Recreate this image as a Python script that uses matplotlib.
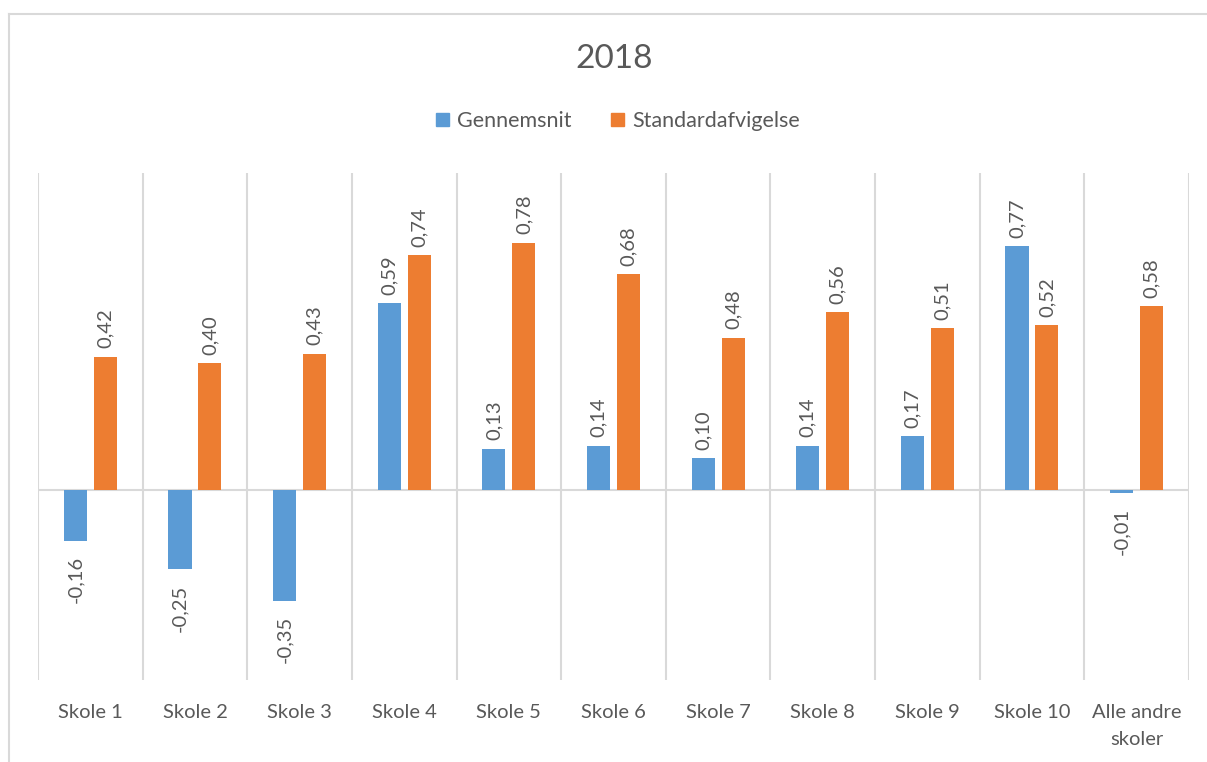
import matplotlib.pyplot as plt
import numpy as np
from matplotlib.lines import Line2D
from matplotlib.patches import Patch

# data
categories = ['Skole 1', 'Skole 2', 'Skole 3', 'Skole 4', 'Skole 5', 'Skole 6',
              'Skole 7', 'Skole 8', 'Skole 9', 'Skole 10', 'Alle andre\nskoler']
gennemsnit = [-0.16, -0.25, -0.35, 0.59, 0.13, 0.14, 0.10, 0.14, 0.17, 0.77, -0.01]
standardafv = [0.42, 0.40, 0.43, 0.74, 0.78, 0.68, 0.48, 0.56, 0.51, 0.52, 0.58]
series_names = ['Gennemsnit', 'Standardafvigelse']
title = '2018'

blue = '#5B9BD5'
orange = '#ED7D31'
txt = '#595959'
grid = '#D9D9D9'

plt.rcParams['font.family'] = ['Lato', 'DejaVu Sans']

fig = plt.figure(figsize=(12.07, 7.62), dpi=100)
ax = fig.add_axes([0.0315, 0.1076, 0.9535, 0.6654])

x = np.arange(len(categories))
w = 0.22
off = 0.143
b1 = ax.bar(x - off, gennemsnit, w, color=blue, zorder=3)
b2 = ax.bar(x + off, standardafv, w, color=orange, zorder=3)

ax.set_xlim(-0.5, len(categories) - 0.5)
ax.set_ylim(-0.6, 1.0)

# category separators and zero line
for b in np.arange(len(categories) + 1) - 0.5:
    ax.axvline(b, color=grid, lw=1.5, zorder=1)
ax.axhline(0, color=grid, lw=1.5, zorder=2)

def fmt(v):
    return ('%.2f' % v).replace('.', ',')

for bars, vals in [(b1, gennemsnit), (b2, standardafv)]:
    for r, v in zip(bars, vals):
        cx = r.get_x() + r.get_width() / 2
        if v >= 0:
            ax.annotate(fmt(v), (cx, v), xytext=(0, 6), textcoords='offset points',
                        rotation=90, ha='center', va='bottom', fontsize=14.5, color=txt)
        else:
            ax.annotate(fmt(v), (cx, v), xytext=(0, -11), textcoords='offset points',
                        rotation=90, ha='center', va='top', fontsize=14.5, color=txt)

ax.set_xticks(x)
ax.set_xticklabels(categories, fontsize=14.5, color=txt, linespacing=1.75)
ax.tick_params(axis='x', length=0, pad=17)
ax.set_yticks([])
for s in ax.spines.values():
    s.set_visible(False)

fig.text(0.509, 0.922, title, ha='center', va='center', fontsize=24, color=txt)

handles = [Patch(color=blue), Patch(color=orange)]
fig.legend(handles, series_names, loc='center', bbox_to_anchor=(0.512, 0.841), ncol=2,
           frameon=False, fontsize=15.5, labelcolor=txt, handlelength=0.6, handleheight=0.6,
           handletextpad=0.4, columnspacing=1.8)

# chart area border (only left and top visible in the crop)
fig.add_artist(Line2D([9 / 1207, 9 / 1207], [0, 1 - 14 / 762], color=grid, lw=1.5))
fig.add_artist(Line2D([9 / 1207, 1], [1 - 14 / 762, 1 - 14 / 762], color=grid, lw=1.5))

fig.savefig('out.png', dpi=100)
